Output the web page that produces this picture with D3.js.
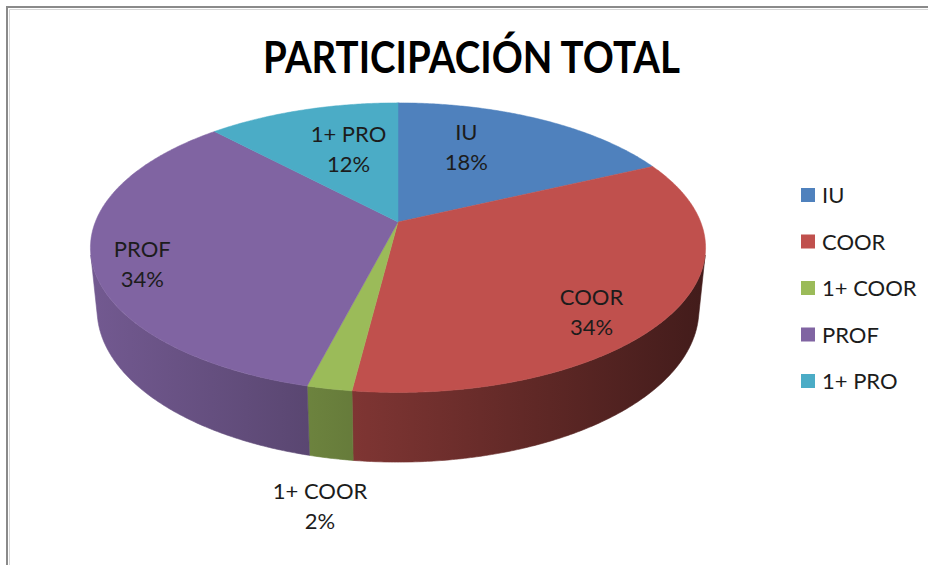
<!DOCTYPE html>
<html>
<head>
<meta charset="utf-8">
<script src="https://cdn.jsdelivr.net/npm/d3@7"></script>
<style>
  html, body { margin: 0; padding: 0; background: #ffffff; }
  svg { display: block; }
  text { font-family: Lato, "Open Sans", "DejaVu Sans", sans-serif; }
</style>
</head>
<body>
<script>
// Participation by group
const categories = ["IU", "COOR", "1+ COOR", "PROF", "1+ PRO"];
const shares = [18, 34, 2, 34, 12];
const chartTitle = "PARTICIPACIÓN TOTAL";

const palette = ["#4F81BD", "#C0504D", "#9BBB59", "#8064A2", "#4BACC6"];

const W = 928, H = 565;
const svg = d3.select("body").append("svg").attr("width", W).attr("height", H);
const defs = svg.append("defs");

// chart frame (top and left edges)
svg.append("path")
  .attr("d", `M7,${H} V7 H${W}`)
  .attr("fill", "none").attr("stroke", "#8a8a8a").attr("stroke-width", 2);
svg.append("path")
  .attr("d", `M9.5,${H} V9.5 H${W}`)
  .attr("fill", "none").attr("stroke", "#d6d6d6").attr("stroke-width", 1);

// title
svg.append("text")
  .attr("x", 471.5).attr("y", 73)
  .attr("text-anchor", "middle")
  .attr("font-weight", "bold").attr("font-size", 43)
  .attr("textLength", 417).attr("lengthAdjust", "spacingAndGlyphs")
  .attr("fill", "#000")
  .text(chartTitle);

const color = d3.scaleOrdinal().domain(categories).range(palette);
const data = categories.map((c, i) => ({ name: c, value: shares[i] }));
const total = d3.sum(shares);
const pct = d3.format(".0%");

// perspective view of a tilted disk: angles clockwise from the far side
const cam = { cx: 398, cy: 222, k: 302.7, tilt: 27.6 * Math.PI / 180, dist: 5.0, depth: 0.233 };
const cT = Math.cos(cam.tilt), sT = Math.sin(cam.tilt);
function project(r, a, y) {
  const X = r * Math.sin(a), Z = -r * Math.cos(a);
  const yc = y * cT - Z * sT;
  const zc = Z * cT + y * sT;
  const w = 1 / (1 - zc / cam.dist);
  return { x: cam.cx + cam.k * X * w, y: cam.cy - cam.k * yc * w, z: zc };
}

const arcs = d3.pie().sort(null).value(d => d.value)(data);
const line = d3.line().x(p => p.x).y(p => p.y);

// the part of the cylinder wall that faces the viewer
const halfVisible = Math.acos(1 / (cT * cam.dist));
const wallFrom = Math.PI - halfVisible, wallTo = Math.PI + halfVisible;

// side wall lighting: brighter on the left, darker on the right
const xLeft = project(1, 1.5 * Math.PI, 0).x, xRight = project(1, 0.5 * Math.PI, 0).x;
const shadeAt = s => 0.62 + 0.27 * s; // s = -1 (right) .. 1 (left)
arcs.forEach((a, i) => {
  const base = d3.rgb(color(a.data.name));
  const g = defs.append("linearGradient")
    .attr("id", "side" + i)
    .attr("gradientUnits", "userSpaceOnUse")
    .attr("x1", xLeft).attr("y1", 0).attr("x2", xRight).attr("y2", 0);
  [0, 0.25, 0.5, 0.75, 1].forEach(t => {
    const f = shadeAt(1 - 2 * t);
    g.append("stop").attr("offset", t)
      .attr("stop-color", d3.rgb(base.r * f, base.g * f, base.b * f).formatHex());
  });
});

function wallPath(a) {
  const t0 = Math.max(a.startAngle, wallFrom), t1 = Math.min(a.endAngle, wallTo);
  if (t1 <= t0) return null;
  const n = Math.max(2, Math.ceil((t1 - t0) / (Math.PI / 360)));
  const top = [], bottom = [];
  for (let i = 0; i <= n; i++) {
    const t = t0 + (t1 - t0) * i / n;
    top.push(project(1, t, 0));
    bottom.push(project(1, t, -cam.depth));
  }
  return line(top.concat(bottom.reverse())) + "Z";
}
svg.append("g").selectAll("path").data(arcs.filter(a => wallPath(a))).join("path")
  .attr("d", wallPath)
  .attr("fill", a => `url(#side${a.index})`)
  .attr("stroke", a => `url(#side${a.index})`).attr("stroke-width", 0.6);

// top face
function topPath(a) {
  const pts = [project(0, 0, 0)];
  const n = Math.max(2, Math.ceil((a.endAngle - a.startAngle) / (Math.PI / 360)));
  for (let i = 0; i <= n; i++) {
    pts.push(project(1, a.startAngle + (a.endAngle - a.startAngle) * i / n, 0));
  }
  return line(pts) + "Z";
}
svg.append("g").selectAll("path").data(arcs).join("path")
  .attr("d", topPath)
  .attr("fill", a => color(a.data.name))
  .attr("stroke", a => color(a.data.name)).attr("stroke-width", 0.5);

// data labels: placed from the projected slice middle
const labelPlace = {
  "IU":      { r: 0.45, level: 0, dx: 0, dy: -25 },
  "COOR":    { r: 0.73, level: 0, dx: 0, dy: 25 },
  "1+ COOR": { r: 1.0, level: -cam.depth, dx: -11, dy: 48 },
  "PROF":    { r: 0.84, level: 0, dx: 0, dy: 12 },
  "1+ PRO":  { r: 0.5, level: 0, dx: 2, dy: -13 }
};
svg.append("g").selectAll("text").data(arcs).join("text")
  .attr("text-anchor", "middle")
  .attr("font-size", 22)
  .attr("fill", "#1c1c1c")
  .each(function (a) {
    const lp = labelPlace[a.data.name];
    const m = (a.startAngle + a.endAngle) / 2;
    const p = project(lp.r, m, lp.level);
    const x = p.x + lp.dx, y = p.y + lp.dy;
    const t = d3.select(this);
    t.append("tspan").attr("x", x).attr("y", y - 7).text(a.data.name);
    t.append("tspan").attr("x", x).attr("y", y + 23).text(pct(a.data.value / total));
  });

// legend
const legend = svg.append("g").selectAll("g").data(categories).join("g")
  .attr("transform", (d, i) => `translate(801, ${195 + i * 46.5})`);
legend.append("rect")
  .attr("x", 0).attr("y", -7).attr("width", 14).attr("height", 14)
  .attr("fill", d => color(d));
legend.append("text")
  .attr("x", 21).attr("y", 8)
  .attr("font-size", 22)
  .attr("fill", "#1c1c1c")
  .text(d => d);
</script>
</body>
</html>
